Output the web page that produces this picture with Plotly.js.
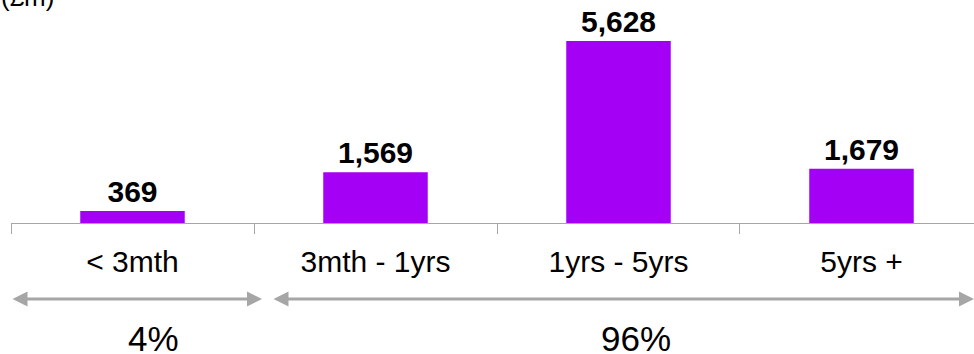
<!DOCTYPE html>
<html>
<head>
<meta charset="utf-8">
<script src="https://cdn.plot.ly/plotly-3.0.1.min.js"></script>
<style>html,body{margin:0;padding:0;background:#fff;}#chart{width:974px;height:354px;}</style>
</head>
<body>
<div id="chart"></div>
<script>
const categories = ['< 3mth', '3mth - 1yrs', '1yrs - 5yrs', '5yrs +'];
const values = [369, 1569, 5628, 1679];
const groupLabels = ['4%', '96%'];
const unitLabel = '(£m)';

const FONT = 'Liberation Sans, Arial, sans-serif';
const GREY = '#a6a6a6';

const trace = {
  type: 'bar',
  x: categories,
  y: values,
  marker: {color: '#a300f5'},
  width: 0.43,
  texttemplate: '%{y:,}',
  textposition: 'outside',
  textfont: {family: FONT, size: 30, color: '#000', weight: 'bold'},
  cliponaxis: false,
  hoverinfo: 'none'
};

const arrowBase = {
  xref: 'x', yref: 'paper', axref: 'x', ayref: 'paper',
  text: '', showarrow: true, arrowhead: 2, startarrowhead: 2,
  arrowside: 'end+start', arrowwidth: 3, arrowsize: 1, startarrowsize: 1,
  arrowcolor: GREY, standoff: 0, startstandoff: 0
};

const layout = {
  width: 974, height: 354,
  margin: {l: 11, r: 0, t: 0, b: 131},
  paper_bgcolor: '#fff', plot_bgcolor: '#fff',
  showlegend: false,
  font: {family: FONT, color: '#000'},
  xaxis: {
    type: 'category',
    range: [-0.5, 3.463],
    tickson: 'boundaries',
    ticks: 'outside', ticklen: 10, tickcolor: GREY, tickwidth: 1,
    showline: true, linecolor: GREY, linewidth: 1,
    showgrid: false, zeroline: false,
    tickfont: {family: FONT, size: 30, color: '#000'},
    ticklabelstandoff: 12
  },
  yaxis: {range: [0, 6896], visible: false, fixedrange: true},
  annotations: [
    Object.assign({}, arrowBase, {x: 0.533, y: -0.341, ax: -0.5, ay: -0.341}),
    Object.assign({}, arrowBase, {x: 3.463, y: -0.341, ax: 0.574, ay: -0.341}),
    {xref: 'x', yref: 'paper', x: 0.088, y: -0.516, text: groupLabels[0], showarrow: false,
     yanchor: 'middle', font: {family: FONT, size: 35, color: '#000'}},
    {xref: 'x', yref: 'paper', x: 2.072, y: -0.516, text: groupLabels[1], showarrow: false,
     yanchor: 'middle', font: {family: FONT, size: 35, color: '#000'}},
    {xref: 'paper', yref: 'paper', x: -0.012, y: 1.012, text: unitLabel, showarrow: false,
     xanchor: 'left', yanchor: 'middle', font: {family: FONT, size: 26, color: '#000'}}
  ]
};

Plotly.newPlot('chart', [trace], layout, {staticPlot: true, displayModeBar: false});
</script>
</body>
</html>
